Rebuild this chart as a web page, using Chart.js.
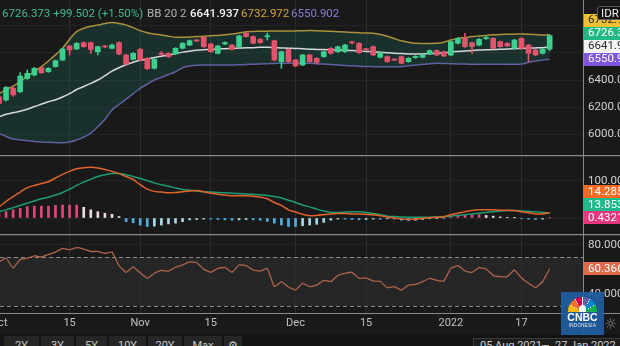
<!DOCTYPE html>
<html><head><meta charset="utf-8"><title>IHSG</title>
<script src="https://cdn.jsdelivr.net/npm/chart.js@4.4.1/dist/chart.umd.min.js"></script>
<style>
*{box-sizing:border-box}
html,body{margin:0;padding:0;background:#191919;overflow:hidden}
#wrap{position:relative;width:620px;height:346px;overflow:hidden;background:#191919;font-family:Roboto,"Noto Sans",sans-serif}
canvas{position:absolute;left:0}
.hl{position:absolute;left:0;width:620px;height:1px}
.hdr{position:absolute;top:6px;font-size:11.5px;line-height:14px;white-space:nowrap}
.btn{position:absolute;top:336px;height:14px;background:#262626;color:#c8c8c8;font-size:11px;line-height:14px;padding-top:3px;text-align:center}
</style></head>
<body><div id="wrap">
<canvas id="cPrice" width="620" height="155" style="top:0"></canvas>
<canvas id="cMacd" width="620" height="77" style="top:157px"></canvas>
<canvas id="cRsi" width="620" height="110" style="top:236px"></canvas>
<div class="hl" style="top:155px;background:#8a8a8a"></div>
<div class="hl" style="top:156px;background:#333"></div>
<div class="hl" style="top:234px;background:#8a8a8a"></div>
<div class="hl" style="top:235px;background:#333"></div>
<div class="hl" style="top:313px;background:#8a8a8a"></div>
<div style="position:absolute;left:583px;top:0;width:1px;height:334px;background:#8a8a8a"></div>
<div id="hMain" class="hdr" style="left:2px;color:#3dbb8c"></div>
<div id="hBB" class="hdr" style="left:147px;color:#b4b4b4"></div>
<div id="hMid" class="hdr" style="left:190px;color:#f4f4f4;font-weight:500"></div>
<div id="hUp" class="hdr" style="left:241px;color:#d6a534"></div>
<div id="hLo" class="hdr" style="left:291px;color:#8a7dd0"></div>
<div style="position:absolute;left:597px;top:6px;width:30px;height:14px;background:#141414;border:1px solid #5a5a5a;border-radius:3px;color:#eee;font-size:11.5px;line-height:12px;padding-left:3px">IDR</div>
<div style="position:absolute;left:0;top:334px;width:620px;height:12px;background:#141414"></div>
<div id="btns"></div>
<div style="position:absolute;left:473px;top:338px;width:160px;height:14px;background:#1e1e1e;border:1px solid #3c3c3c"></div>
<div id="rFrom" style="position:absolute;left:480px;top:339px;color:#cfcfcf;font-size:11px;line-height:14px"></div>
<div style="position:absolute;left:541px;top:339px;color:#cfcfcf;font-size:11px;line-height:14px">—</div>
<div id="rTo" style="position:absolute;left:555px;top:339px;color:#cfcfcf;font-size:11px;line-height:14px"></div>
<div style="position:absolute;left:561px;top:292px;width:43px;height:43px;background:rgba(32,94,160,0.93)">
  <div style="position:absolute;left:7px;top:5px;width:29px;height:15px;border-radius:15px 15px 0 0;background:conic-gradient(from -90deg at 50% 100%, #fcb711 0deg 29deg, #fff 29deg 31deg, #f37021 31deg 59deg, #fff 59deg 61deg, #cc004c 61deg 89deg, #fff 89deg 91deg, #6460aa 91deg 119deg, #fff 119deg 121deg, #0089d0 121deg 149deg, #fff 149deg 151deg, #0db14b 151deg 180deg, transparent 180deg)"></div>
  <div style="position:absolute;left:18px;top:13px;width:7px;height:7px;border-radius:4px 4px 0 0;background:#fff"></div>
  <div style="position:absolute;left:0;top:20px;width:43px;text-align:center;color:#fff;font-family:'Liberation Sans',Arial,sans-serif;font-weight:bold;font-size:10.5px;line-height:11px">CNBC</div>
  <div style="position:absolute;left:0;top:31px;width:43px;text-align:center;color:#e8eef6;font-family:'Liberation Sans',Arial,sans-serif;font-size:4.5px;line-height:5px;letter-spacing:0.3px">INDONESIA</div>
</div>
<div style="position:absolute;left:604px;top:315px;color:#8c8c8c;font-family:'DejaVu Sans';font-size:15px;line-height:18px">☼</div>
</div>
<script>
// ---------- DATA ----------
const dates = [
'2021-10-01','2021-10-04','2021-10-05','2021-10-06','2021-10-07','2021-10-08','2021-10-11','2021-10-12','2021-10-13','2021-10-14',
'2021-10-15','2021-10-18','2021-10-19','2021-10-21','2021-10-22','2021-10-25','2021-10-26','2021-10-27','2021-10-28','2021-10-29',
'2021-11-01','2021-11-02','2021-11-03','2021-11-04','2021-11-05','2021-11-08','2021-11-09','2021-11-10','2021-11-11','2021-11-12',
'2021-11-15','2021-11-16','2021-11-17','2021-11-18','2021-11-19','2021-11-22','2021-11-23','2021-11-24','2021-11-25','2021-11-26',
'2021-11-29','2021-11-30','2021-12-01','2021-12-02','2021-12-03','2021-12-06','2021-12-07','2021-12-08','2021-12-09','2021-12-10',
'2021-12-13','2021-12-14','2021-12-15','2021-12-16','2021-12-17','2021-12-20','2021-12-21','2021-12-22','2021-12-23','2021-12-24',
'2021-12-27','2021-12-28','2021-12-29','2021-12-30','2022-01-03','2022-01-04','2022-01-05','2022-01-06','2022-01-07','2022-01-10',
'2022-01-11','2022-01-12','2022-01-13','2022-01-14','2022-01-17','2022-01-18','2022-01-19','2022-01-20','2022-01-21'];

const open = [6277,6253,6339,6314,6412,6437,6491,6461,6498,6547,6650,6628,6675,6675,6608,6645,6633,6675,6584,6552,
6625,6559,6486,6596,6596,6591,6633,6657,6691,6714,6665,6596,6665,6657,6645,6743,6719,6699,6718,6689,
6535,6625,6547,6510,6584,6559,6572,6633,6608,6608,6677,6670,6628,6645,6567,6572,6552,6572,6535,6565,
6567,6591,6616,6608,6584,6670,6706,6675,6657,6704,6706,6682,6670,6633,6706,6657,6621,6596,6627];
const high = [6285,6352,6350,6454,6474,6494,6496,6491,6547,6633,6655,6675,6680,6680,6650,6655,6665,6680,6589,6601,
6633,6565,6557,6610,6601,6638,6675,6694,6699,6719,6670,6655,6680,6662,6729,6755,6724,6704,6745,6694,
6613,6630,6552,6589,6589,6565,6613,6638,6650,6662,6687,6675,6633,6650,6606,6577,6557,6577,6565,6579,
6589,6621,6621,6613,6687,6711,6743,6680,6704,6719,6711,6687,6675,6699,6711,6662,6626,6633,6733];
const low = [6222,6245,6280,6308,6405,6430,6449,6456,6494,6542,6584,6623,6640,6596,6584,6638,6628,6586,6510,6547,
6540,6476,6481,6580,6565,6586,6628,6652,6682,6640,6603,6591,6660,6620,6640,6714,6665,6670,6694,6540,
6486,6530,6498,6505,6530,6518,6567,6591,6603,6603,6665,6596,6618,6579,6562,6530,6542,6518,6530,6560,
6562,6586,6579,6572,6579,6665,6640,6596,6652,6699,6628,6640,6645,6628,6628,6535,6579,6591,6615];
const close = [6228,6346,6290,6429,6449,6486,6454,6486,6542,6628,6621,6670,6645,6625,6645,6643,6657,6591,6518,6596,
6547,6483,6552,6589,6572,6633,6670,6689,6687,6645,6608,6650,6675,6625,6724,6719,6670,6675,6722,6547,
6608,6535,6503,6584,6535,6530,6608,6596,6645,6657,6673,6601,6623,6584,6601,6535,6547,6523,6559,6574,
6584,6616,6584,6576,6682,6706,6645,6645,6699,6712,6633,6645,6650,6694,6633,6596,6584,6626.871,6726.373];

const bbUpper = [6300,6330,6355,6388,6425,6460,6498,6540,6585,6633,6700,6755,6780,6795,6804,6815,6822,6815,6804,6785,
6763,6748,6738,6731,6722,6714,6714,6716,6719,6722,6725,6728,6732,6738,6745,6755,6757,6758,6759,6760,
6760,6760,6761,6762,6763,6762,6760,6758,6755,6753,6750,6747,6745,6743,6735,6722,6705,6688,6678,6670,
6669,6669,6670,6678,6694,6706,6712,6719,6724,6728,6732,6735,6736,6737,6738,6737,6735,6731,6732.972];
const bbMiddle = [6130,6148,6160,6170,6185,6205,6222,6240,6255,6275,6300,6330,6352,6375,6400,6432,6465,6490,6512,6530,
6545,6555,6565,6575,6582,6595,6605,6612,6618,6622,6625,6628,6630,6633,6635,6637,6638,6640,6640,6638,
6636,6634,6632,6630,6627,6625,6624,6622,6621,6620,6617,6614,6610,6608,6604,6600,6597,6594,6592,6591,
6592,6594,6596,6600,6606,6610,6614,6617,6620,6622,6624,6626,6628,6630,6632,6634,6636,6638,6641.937];
const bbLower = [6008,5985,5966,5960,5955,5948,5945,5942,5940,5939,5945,5959,5980,6010,6057,6110,6179,6220,6260,6300,
6339,6370,6400,6420,6440,6461,6490,6503,6508,6510,6510,6510,6510,6510,6512,6514,6516,6518,6520,6522,
6523,6523,6523,6523,6523,6520,6517,6514,6510,6507,6504,6501,6499,6498,6498,6498,6498,6498,6505,6510,
6515,6520,6523,6522,6520,6518,6517,6515,6515,6515,6515,6515,6515,6515,6518,6530,6540,6547,6550.902];

const macdLine = [30,45,58,70,82,88,93,98,108,118,126,133,136,137,135,131,126,120,112,104,
90,78,72,70,68,69,71,73,74,71,67,64,62,60,60,60,59,57,52,42,
34,22,16,10,6,7,9,11,12,12,11,11,10,9,6,3,0,-3,-4,-3,
-1,1,2,3,9,13,17,20,22,22,22,21,21,20,17,14,11,11,14.2852];
const signalLine = [17,22,28,34,40,46,52,56,62,69,78,88,97,105,112,117,120,120,117,112,
107,101,95,90,86,81,77,75,73,71,70,69,68,67,66,65,64,63,61,58,
54,48,42,35,30,24,19,15,15,16,17,17,15,12,9,5,4,3,2,2,
2,2,3,4,5,7,9,11,13,15,17,19,20,20,19,18,17,15,13.8531];
const macdHist = [12,17,22,26,31,32,32,32,34,35,35,35,29,22,17,13,10,4,-10,-13,
-19,-23,-22,-19,-16,-14,-10,-5,-4,-3,-3,-4,-5,-6,-5,-4,-5,-6,-9,-14,
-19,-23,-23,-21,-19,-17,-12,-6,-3,-3,-4,-5,-4,-3,-3,-2,-3,-6,-7,-6,
-4,-2,-1,-1,4,6,8,9,9,7,5,3,1,0.5,-1,-3,-4,-3,0.4321];

const rsi = [66,69,61,68,69,71,70,72,74,77,76,77.6,76.5,74.5,74.5,73,74,63,57.5,62,
57,52.6,56.7,59,58.5,61.5,63.5,66,65.5,60,57.5,60.7,61.5,57.5,63.5,63,59.4,58.5,60.7,45.8,
49.9,45.5,43.1,48.5,45.8,47,51,50,55,56.7,57.5,52.6,53,50.4,50,45,45.8,43,47,47.7,
49.9,52.6,51,50.4,60.7,62.9,58.6,57.5,61.3,60.2,55,53.9,54,59.4,53,48.5,45,50,60.366];

const tickDates  = ['2021-10-01','2021-10-15','2021-11-01','2021-11-15','2021-12-01','2021-12-15','2022-01-03','2022-01-17'];
const tickLabels = ['Oct','15','Nov','15','Dec','15','2022','17'];
const priceTicks = [6000,6200,6400,6600,6800];
const macdTicks = [0,100];
const rsiTicks = [40,60,80];
const rsiBands = [30,70];
const bbSettings = ['BB', 20, 2];
const rangeButtons = ['2Y','3Y','5Y','10Y','20Y','Max'];
const rangeFrom = '05 Aug 2021', rangeTo = '27 Jan 2022';

// ---------- BUILD ----------
const N = dates.length, L = N - 1;
const tickIdx = tickDates.map(d => dates.indexOf(d));
const UP = '#3ccf8e', DOWN = '#e3536b';
const FONT = 'Roboto';

const chg = close[L] - close[L-1];
const pct = chg / close[L-1] * 100;
const sg = v => (v >= 0 ? '+' : '');
document.getElementById('hMain').textContent = close[L].toFixed(3) + '  ' + sg(chg) + chg.toFixed(3) + ' (' + sg(pct) + pct.toFixed(2) + '%)';
document.getElementById('hBB').textContent = bbSettings.join(' ');
document.getElementById('hMid').textContent = bbMiddle[L].toFixed(3);
document.getElementById('hUp').textContent = bbUpper[L].toFixed(3);
document.getElementById('hLo').textContent = bbLower[L].toFixed(3);
document.getElementById('rFrom').textContent = rangeFrom;
document.getElementById('rTo').textContent = rangeTo;
const btnBox = document.getElementById('btns');
const btnGeom = [[4,35],[41,33],[76,31],[109,37],[148,34],[184,38]];
rangeButtons.forEach((t,i) => {
  const d = document.createElement('div'); d.className = 'btn';
  d.style.left = btnGeom[i][0] + 'px'; d.style.width = btnGeom[i][1] + 'px'; d.textContent = t;
  btnBox.appendChild(d);
});
const g = document.createElement('div'); g.className = 'btn';
g.style.left = '224px'; g.style.width = '18px'; g.textContent = '⚙'; btnBox.appendChild(g);

const noPad = s => { s.paddingLeft = 0; s.paddingRight = 0; s.paddingTop = 0; s.paddingBottom = 0; };
const X_MIN = 0.14, X_MAX = 82.72;
function xScale(show) {
  return {
    type: 'linear', min: X_MIN, max: X_MAX, offset: false,
    afterBuildTicks: s => { s.ticks = tickIdx.map(v => ({ value: v })); },
    ticks: { display: show, autoSkip: false, maxRotation: 0, color: '#c2c2c2',
      font: { family: FONT, size: 11 }, padding: 4, callback: (v, i) => tickLabels[i] },
    grid: { color: '#2c2c2c', drawTicks: false, offset: false },
    border: { display: false },
    afterFit: s => { s.height = show ? 33 : 0; noPad(s); }
  };
}
function yScale(min, max, ticks, fmt) {
  return {
    type: 'linear', position: 'right', min, max,
    afterBuildTicks: s => { s.ticks = ticks.map(v => ({ value: v })); },
    ticks: { color: '#d2d2d2', font: { family: FONT, size: 11.5 }, padding: 5, autoSkip: false, callback: v => fmt(v) },
    grid: { color: '#242424', drawTicks: false },
    border: { display: false },
    afterFit: s => { s.width = 37; noPad(s); }
  };
}
function badgePlugin(badges, band) {
  return {
    id: 'deco',
    beforeDraw(chart) {
      if (!band) return;
      const ys = chart.scales.y, a = chart.chartArea, c = chart.ctx;
      const t = ys.getPixelForValue(band[1]), b = ys.getPixelForValue(band[0]);
      c.save(); c.fillStyle = '#262626'; c.fillRect(a.left, t, a.right - a.left, b - t); c.restore();
    },
    beforeDatasetsDraw(chart) {
      if (!band) return;
      const ys = chart.scales.y, a = chart.chartArea, c = chart.ctx;
      c.save(); c.strokeStyle = '#8a8a8a'; c.lineWidth = 1; c.setLineDash([4, 3]);
      band.forEach(v => {
        const y = Math.round(ys.getPixelForValue(v)) + 0.5;
        c.beginPath(); c.moveTo(a.left, y); c.lineTo(a.right, y); c.stroke();
      });
      c.restore();
    },
    afterDraw(chart) {
      const ys = chart.scales.y, c = chart.ctx, h = 13;
      const items = badges.map(b => Object.assign({}, b, { py: ys.getPixelForValue(b.value) }));
      items.sort((p, q) => q.py - p.py);
      let prev = Infinity;
      items.forEach(it => { it.cy = Math.min(it.py, prev - h); prev = it.cy; });
      c.save();
      items.forEach(it => {
        c.fillStyle = it.bg; c.fillRect(584, Math.round(it.cy - h / 2), 40, h);
        c.fillStyle = it.fg; c.font = '11.5px ' + FONT; c.textBaseline = 'middle'; c.textAlign = 'left';
        c.fillText(it.text, 588, Math.round(it.cy) + 0.5);
      });
      c.restore();
    }
  };
}
const baseOpts = (scales) => ({
  responsive: false, animation: false, events: [],
  layout: { padding: 0, autoPadding: false },
  plugins: { legend: { display: false }, tooltip: { enabled: false } },
  scales
});

// Price pane
const candleColor = ctx => close[ctx.dataIndex] >= open[ctx.dataIndex] ? UP : DOWN;
const pts = arr => arr.map((v, i) => ({ x: i, y: v }));
new Chart(document.getElementById('cPrice'), {
  type: 'bar',
  data: { datasets: [
    { type: 'bar', data: dates.map((d, i) => ({ x: i, y: [open[i], close[i]] })), backgroundColor: candleColor,
      barThickness: 5, grouped: false, minBarLength: 1, borderWidth: 0, order: 0 },
    { type: 'bar', data: dates.map((d, i) => ({ x: i, y: [low[i], high[i]] })), backgroundColor: candleColor,
      barThickness: 1, grouped: false, borderWidth: 0, order: 1 },
    { type: 'line', data: pts(bbUpper), borderColor: '#a8923a', borderWidth: 1.5, pointRadius: 0, tension: 0.2,
      fill: '+1', backgroundColor: 'rgba(30,130,120,0.22)', order: 4 },
    { type: 'line', data: pts(bbLower), borderColor: '#5f60a0', borderWidth: 1.5, pointRadius: 0, tension: 0.2, fill: false, order: 3 },
    { type: 'line', data: pts(bbMiddle), borderColor: '#d5d8dc', borderWidth: 1.5, pointRadius: 0, tension: 0.2, fill: false, order: 2 }
  ]},
  options: baseOpts({ x: xScale(false), y: yScale(5849, 6988, priceTicks, v => v.toFixed(2)) }),
  plugins: [badgePlugin([
    { value: bbUpper[L], text: bbUpper[L].toFixed(3), bg: '#f2c132', fg: '#2a2a2a' },
    { value: close[L], text: close[L].toFixed(3), bg: '#22b883', fg: '#ffffff' },
    { value: bbMiddle[L], text: bbMiddle[L].toFixed(3), bg: '#f6f6f6', fg: '#2a2a2a' },
    { value: bbLower[L], text: bbLower[L].toFixed(3), bg: '#7e55dc', fg: '#ffffff' }
  ], null)]
});

// MACD pane
const histColor = ctx => {
  const i = ctx.dataIndex, v = macdHist[i], p = i > 0 ? macdHist[i - 1] : v;
  if (v >= 0) return v >= p ? '#e0457d' : '#ecdbe2';
  return v <= p ? '#4fb0e0' : '#a9d8e6';
};
new Chart(document.getElementById('cMacd'), {
  type: 'bar',
  data: { datasets: [
    { type: 'line', data: pts(macdLine), borderColor: '#e2632b', borderWidth: 1.5, pointRadius: 0, tension: 0.2, order: 0 },
    { type: 'line', data: pts(signalLine), borderColor: '#1f9d72', borderWidth: 1.5, pointRadius: 0, tension: 0.2, order: 1 },
    { type: 'bar', data: pts(macdHist), backgroundColor: histColor, barThickness: 2, grouped: false, borderWidth: 0, order: 2 }
  ]},
  options: baseOpts({ x: xScale(false), y: yScale(-43.24, 164.86, macdTicks, v => v.toFixed(4)) }),
  plugins: [badgePlugin([
    { value: macdLine[L], text: macdLine[L].toFixed(4), bg: '#f46a22', fg: '#ffffff' },
    { value: signalLine[L], text: signalLine[L].toFixed(4), bg: '#1fba8a', fg: '#ffffff' },
    { value: macdHist[L], text: macdHist[L].toFixed(4), bg: '#e6367e', fg: '#ffffff' }
  ], null)]
});

// RSI pane
new Chart(document.getElementById('cRsi'), {
  type: 'line',
  data: { datasets: [
    { data: pts(rsi), borderColor: '#b0634c', borderWidth: 1.3, pointRadius: 0, tension: 0.1, fill: false }
  ]},
  options: baseOpts({ x: xScale(true), y: yScale(24.29, 87.14, rsiTicks, v => v.toFixed(3)) }),
  plugins: [badgePlugin([
    { value: rsi[L], text: rsi[L].toFixed(3), bg: '#e06a4c', fg: '#ffffff' }
  ], rsiBands)]
});
</script>
</body></html>
